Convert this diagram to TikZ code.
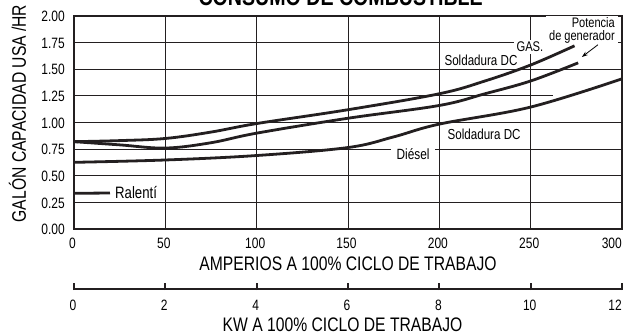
\documentclass[tikz,border=0pt]{standalone}
\usepackage{fontspec}
\setmainfont{Liberation Sans}[FakeStretch=0.8]
\usepackage{tikz}
\usetikzlibrary{arrows.meta}
\definecolor{fuelblack}{RGB}{35,31,32}
\newcommand{\fuelsize}[1]{\fontsize{#1}{#1}\selectfont}

\begin{document}
\begin{tikzpicture}[
		x=1.82667pt, y=106.5pt,
		gridline/.style={draw=fuelblack, line width=0.9pt},
		frameline/.style={draw=fuelblack, line width=1.9pt},
		fuelcurve/.style={draw=fuelblack, line width=2.8pt},
		ticklbl/.style={inner sep=0pt, font=\fuelsize{15}},
		axistitle/.style={inner sep=0pt, font=\fuelsize{19.6}},
		curvelbl/.style={fill=white, inner xsep=3pt, inner ysep=2pt, font=\fuelsize{14.5}}
	]
	\useasboundingbox (-74pt,-106pt) rectangle (557pt,229pt);

	% title, cut by the top edge
	\node[anchor=base, font=\bfseries\fuelsize{24.5}] (title) at (146,2.094) {CONSUMO DE COMBUSTIBLE};

	% grid and frame
	\foreach \xv in {50,100,...,250}
		\draw[gridline] (\xv,0) -- (\xv,2);
	\foreach \yv in {0.25,0.5,0.75,1,1.5,1.75}
		\draw[gridline] (0,\yv) -- (300,\yv);
	\draw[gridline] (0,1.25) -- (262,1.25);
	\draw[frameline] (0,0) rectangle (300,2);

	% gallon axis
	\foreach \yv/\ylab [count=\i] in {0/0.00,0.25/0.25,0.5/0.50,0.75/0.75,1/1.00,1.25/1.25,1.5/1.50,1.75/1.75,2/2.00}
		\node[ticklbl, anchor=east] (gal\i) at ([xshift=-9pt,yshift=-0.5pt]0,\yv) {\ylab};
	\node[axistitle, rotate=90] (galtitle) at ([xshift=-56.5pt]0,1.085) {GALÓN CAPACIDAD USA /HR};

	% ampere axis
	\foreach \xv [count=\i] in {0,50,...,250}
		\node[ticklbl] (amp\i) at ([xshift=-1.5pt,yshift=-14pt]\xv,0) {\xv};
	\node[ticklbl, anchor=east] (amp7) at ([yshift=-14pt]300,0) {300};
	\node[axistitle] (amptitle) at ([yshift=-34.5pt]150,0) {AMPERIOS A 100\% CICLO DE TRABAJO};

	% kW axis
	\draw[frameline] ([yshift=-60.3pt]0,0) coordinate (kwleft) -- ([yshift=-60.3pt]300,0) coordinate (kwright);
	\foreach \kw in {0,2,...,12}
		\draw[frameline] ([yshift=-61.2pt]\kw*25,0) -- ++(0pt,7pt);
	\foreach \kw [count=\i] in {0,2,...,10}
		\node[ticklbl] (kw\i) at ([xshift=-1pt,yshift=-76pt]\kw*25,0) {\kw};
	\node[ticklbl, anchor=east] (kw7) at ([yshift=-76pt]300,0) {12};
	\node[axistitle] (kwtitle) at ([yshift=-95.5pt]147,0) {KW A 100\% CICLO DE TRABAJO};

	% curve labels
	\node[curvelbl, font=\fuelsize{14}] (gas) at (249.6,1.709) {GAS.};
	\node[curvelbl, fill=none] (soldup) at (222.8,1.587) {Soldadura DC};
	\node[curvelbl, fill=none] (solddown) at (224.5,0.892) {Soldadura DC};
	\node[curvelbl, inner xsep=6pt, font=\fuelsize{14.8}] (diesel) at (185.6,0.704) {Diésel};
	\node[curvelbl, fill=none, anchor=west, font=\fuelsize{16.5}] (ralenti) at (20.8,0.338) {Ralentí};
	\node[
		  curvelbl,
		  anchor=east,
		  align=right,
		  inner ysep=1pt,
		  font=\fontsize{13.8}{13.5}\selectfont
		 ] (potencia) at (297.8,1.865) {Potencia\\de generador};

	% consumption curves
	\draw[fuelcurve] plot[smooth, tension=0.6] coordinates {(0,0.82) (25,0.83) (50,0.85) (75,0.91) (100,0.99) (150,1.12) (200,1.27) (225,1.39) (250,1.54) (274,1.72)};
	\draw[fuelcurve] plot[smooth, tension=0.6] coordinates {(0,0.82) (25,0.79) (50,0.76) (75,0.81) (100,0.90) (150,1.04) (200,1.16) (225,1.27) (250,1.39) (276,1.56)};
	\draw[fuelcurve] plot[smooth, tension=0.6] coordinates {(0,0.626) (50,0.648) (100,0.69) (150,0.765) (175,0.865) (200,0.985) (250,1.145) (300,1.41)};
	\draw[fuelcurve] (0,0.335) -- ([xshift=-2pt]ralenti.west);

	% pointer to the generator curve
	\coordinate (gentip) at (278,1.615);
	\draw[-{Stealth[length=6pt,width=4pt]}, line width=0.8pt] ([xshift=16pt]potencia.south) -- (gentip);
\end{tikzpicture}
\end{document}
